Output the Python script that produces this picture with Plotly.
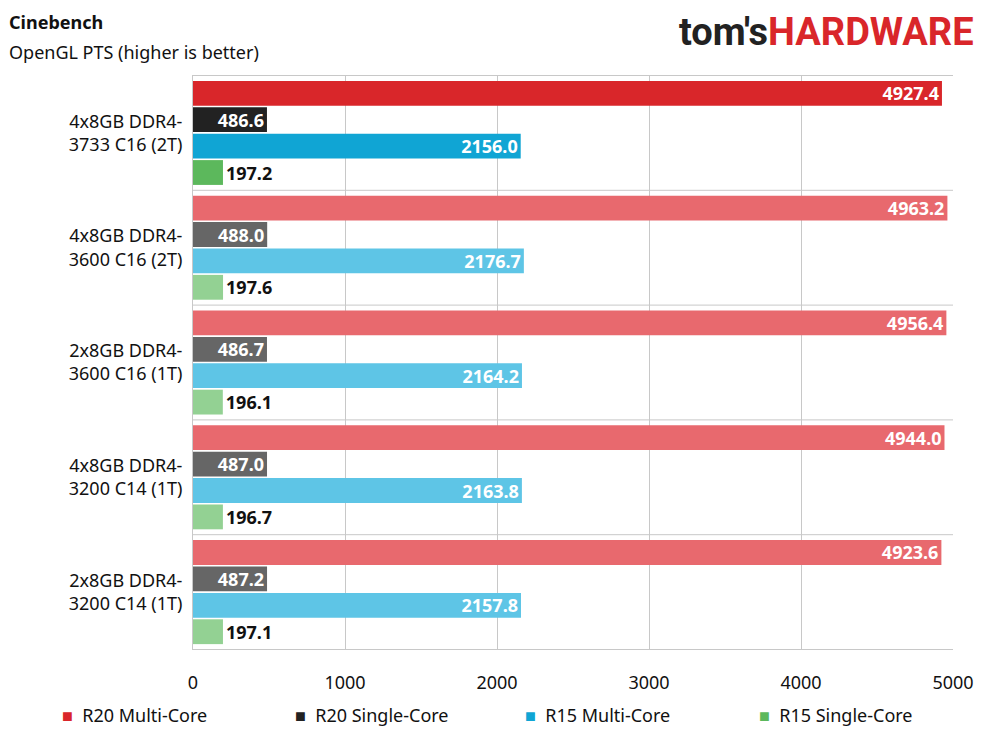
import plotly.graph_objects as go

categories = ["4x8GB DDR4-<br>3733 C16 (2T)", "4x8GB DDR4-<br>3600 C16 (2T)", "2x8GB DDR4-<br>3600 C16 (1T)",
              "4x8GB DDR4-<br>3200 C14 (1T)", "2x8GB DDR4-<br>3200 C14 (1T)"]
r20_multi = [4927.4, 4963.2, 4956.4, 4944.0, 4923.6]
r20_single = [486.6, 488.0, 486.7, 487.0, 487.2]
r15_multi = [2156.0, 2176.7, 2164.2, 2163.8, 2157.8]
r15_single = [197.2, 197.6, 196.1, 196.7, 197.1]
legend_px = [60, 293, 523, 757]

F = "Noto Sans"
series = [
    ("R20 Multi-Core", r20_multi, "#d9262a", "#e8696e", "inside", "white"),
    ("R20 Single-Core", r20_single, "#222222", "#666666", "inside", "white"),
    ("R15 Multi-Core", r15_multi, "#10a5d4", "#5ec5e6", "inside", "white"),
    ("R15 Single-Core", r15_single, "#5cb85c", "#93d193", "outside", "#111"),
]
PW, PH = 760, 575
fig = go.Figure()
for (name, vals, c1, c2, pos, tc), lx in zip(series, legend_px):
    tf = dict(color=tc, size=18, family=F, weight="bold")
    fig.add_trace(go.Bar(
        y=categories, x=vals, name=name, orientation="h", showlegend=False,
        marker=dict(color=[c1] + [c2] * (len(vals) - 1), line=dict(width=0)),
        text=[f"{v:.1f}" for v in vals], textposition=pos, insidetextanchor="end",
        constraintext="none",
        textfont=tf, outsidetextfont=tf, insidetextfont=tf, cliponaxis=False))
    fig.add_annotation(text=f"<span style='color:{c1}'>■</span>  {name}", xref="paper", yref="paper",
                       x=(lx - 193) / PW, y=-65 / PH, xanchor="left", yanchor="middle",
                       showarrow=False, font=dict(size=18))

fig.update_layout(
    width=989, height=741, barmode="group", bargap=0.08, bargroupgap=0.06,
    plot_bgcolor="white", paper_bgcolor="white",
    margin=dict(l=185, r=44, t=67, b=99, autoexpand=False),
    font=dict(family=F, size=18, color="#111"),
    xaxis=dict(range=[0, 5000], dtick=1000, showgrid=True, gridcolor="#c8c8c8",
               zeroline=False, tickfont=dict(size=18), ticks="", showline=False,
               automargin=False, ticklabelstandoff=20),
    yaxis=dict(autorange="reversed", showline=True, linecolor="#c8c8c8", ticks="",
               tickfont=dict(size=18), ticklabelstandoff=6, automargin=False),
)
for i in range(len(categories) + 1):
    fig.add_shape(type="line", xref="paper", x0=0, x1=1, yref="y", y0=i - 0.5, y1=i - 0.5,
                  line=dict(color="#c8c8c8", width=1), layer="below")
fig.add_annotation(text="<b>Cinebench</b>", xref="paper", yref="paper", x=-186/PW, y=1.068,
                   xanchor="left", yanchor="bottom", showarrow=False, font=dict(size=18))
fig.add_annotation(text="OpenGL PTS (higher is better)", xref="paper", yref="paper", x=-186/PW, y=1.016,
                   xanchor="left", yanchor="bottom", showarrow=False, font=dict(size=18))
fig.add_annotation(text="<span style='color:#222'>tom's</span><span style='color:#d9262a'>HARDWARE</span>",
                   xref="paper", yref="paper", x=1.03, y=1.075, xanchor="right", yanchor="middle",
                   showarrow=False, font=dict(size=38, family="Roboto", weight="bold"))
fig.write_html("out.html")
